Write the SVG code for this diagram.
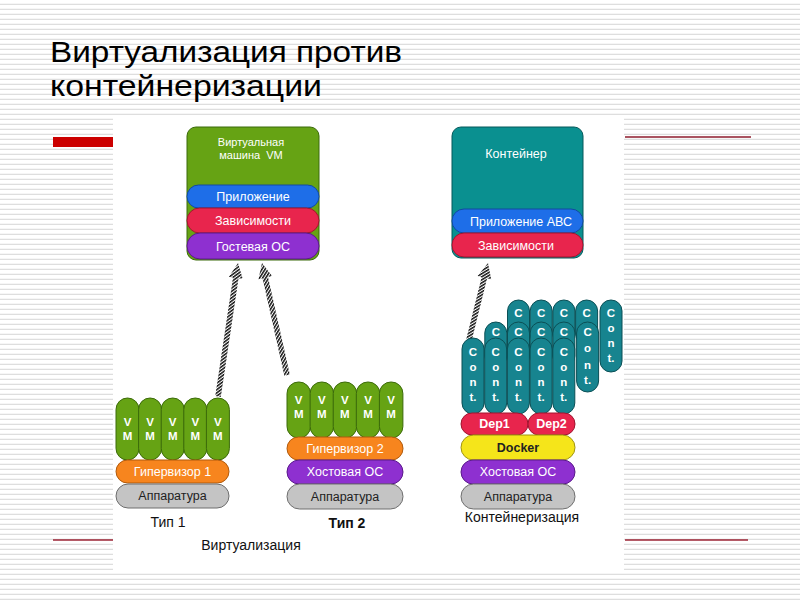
<svg xmlns="http://www.w3.org/2000/svg" width="800" height="600" viewBox="0 0 800 600">
<defs>
<pattern id="bglines" patternUnits="userSpaceOnUse" x="0" y="0" width="800" height="5">
<rect x="0" y="0" width="800" height="5" fill="#fff"/>
<rect x="0" y="3.8" width="800" height="1" fill="#d6d6d6"/>
</pattern>
<pattern id="hatch" patternUnits="userSpaceOnUse" width="2.6" height="2.6" patternTransform="rotate(45)">
<rect x="0" y="0" width="2.6" height="2.6" fill="#fff"/>
<rect x="0" y="0" width="1.5" height="2.6" fill="#111"/>
</pattern>
</defs>
<style>
.lbl{font-family:"Liberation Sans","DejaVu Sans",Arial,sans-serif;font-size:12.5px;fill:#fff;text-anchor:middle}
.sm{font-size:11px}
.dk{fill:#222}
.b{font-weight:bold}
.vm{fill:#66a314;stroke:#3b6a0a;stroke-width:1}
.ct{fill:#17848f;stroke:#0b4f55;stroke-width:1}
.blue{fill:#1e6ee8;stroke:#124aa0;stroke-width:1}
.red{fill:#e8254d;stroke:#a0152f;stroke-width:1}
.purple{fill:#8e30d0;stroke:#5a1a8a;stroke-width:1}
.orange{fill:#f7851e;stroke:#b05a0c;stroke-width:1}
.gray{fill:#c4c4c4;stroke:#6e6e6e;stroke-width:1}
.yellow{fill:#f5e51a;stroke:#a09410;stroke-width:1}
.pl{font-family:"Liberation Sans","DejaVu Sans",Arial,sans-serif;font-size:11.5px;font-weight:bold;fill:#fff;text-anchor:middle}
.cap{font-family:"Liberation Sans","DejaVu Sans",Arial,sans-serif;font-size:14px;fill:#111;text-anchor:middle}
.hatchArrow{fill:url(#hatch)}
</style>

<!-- background -->
<rect x="0" y="0" width="800" height="600" fill="url(#bglines)"/>
<rect x="113" y="116" width="511" height="456" fill="#fff"/>
<rect x="53" y="137" width="60" height="10" fill="#cc0000"/>
<line x1="625" y1="137" x2="751" y2="137" stroke="#8e1b2c" stroke-width="1.6"/>
<line x1="53" y1="540" x2="113" y2="540" stroke="#9b2335" stroke-width="1.5"/>
<line x1="625" y1="540" x2="748" y2="540" stroke="#9b2335" stroke-width="1.5"/>

<!-- title -->
<g id="title" font-family="'Liberation Sans','DejaVu Sans',Arial,sans-serif" font-size="30" fill="#000">
<text x="50" y="62" textLength="352" lengthAdjust="spacingAndGlyphs">Виртуализация против</text>
<text x="50" y="96" textLength="272" lengthAdjust="spacingAndGlyphs">контейнеризации</text>
</g>

<!-- connectors -->
<g id="connectors">
<path class="hatchArrow" transform="translate(238,263) rotate(8.5)" d="M0,0 L7,15 L2.8,15 L2.8,135 L-2.8,135 L-2.8,15 L-7,15 Z"/>
<path class="hatchArrow" transform="translate(262,263) rotate(-12.6)" d="M0,0 L7,15 L2.8,15 L2.8,115 L-2.8,115 L-2.8,15 L-7,15 Z"/>
<path class="hatchArrow" transform="translate(488,263) rotate(13.9)" d="M0,0 L7,15 L2.8,15 L2.8,79 L-2.8,79 L-2.8,15 L-7,15 Z"/>
</g>

<!-- VM box -->
<g id="vm-box">
<rect x="187" y="127" width="132" height="133" rx="9" fill="#66a314" stroke="#3b6a0a"/>
<text class="lbl sm" x="251" y="146">Виртуальная</text>
<text class="lbl sm" x="251" y="159" xml:space="preserve">машина  VM</text>
<rect class="blue" x="187" y="185" width="132" height="23" rx="11.5"/>
<text class="lbl" x="253" y="201">Приложение</text>
<rect class="red" x="187" y="208" width="132" height="25" rx="12.5"/>
<text class="lbl" x="253" y="225">Зависимости</text>
<rect class="purple" x="187" y="233" width="132" height="26" rx="13"/>
<text class="lbl" x="253" y="251">Гостевая ОС</text>
</g>

<!-- Container box -->
<g id="container-box">
<rect x="452" y="127" width="131" height="131" rx="9" fill="#0a9090" stroke="#05595a"/>
<text class="lbl" x="516" y="158">Контейнер</text>
<rect class="blue" x="452" y="209" width="131" height="24" rx="12"/>
<text class="lbl" x="521" y="226">Приложение АВС</text>
<rect class="red" x="452" y="233" width="131" height="24" rx="12"/>
<text class="lbl" x="516" y="250">Зависимости</text>
</g>

<!-- Type 1 -->
<g id="type1">
<rect class="vm" x="116" y="398" width="23" height="62" rx="11.5"/>
<rect class="vm" x="138.6" y="398" width="23" height="62" rx="11.5"/>
<rect class="vm" x="161.2" y="398" width="23" height="62" rx="11.5"/>
<rect class="vm" x="183.8" y="398" width="23" height="62" rx="11.5"/>
<rect class="vm" x="206.4" y="398" width="23" height="62" rx="11.5"/>
<g class="pl">
<text x="127.5" y="426">V</text><text x="127.5" y="440">M</text>
<text x="150.1" y="426">V</text><text x="150.1" y="440">M</text>
<text x="172.7" y="426">V</text><text x="172.7" y="440">M</text>
<text x="195.3" y="426">V</text><text x="195.3" y="440">M</text>
<text x="217.9" y="426">V</text><text x="217.9" y="440">M</text>
</g>
<rect class="orange" x="116" y="460" width="113" height="23" rx="11.5"/>
<text class="lbl" x="172.5" y="476">Гипервизор 1</text>
<rect class="gray" x="116" y="484" width="113" height="24" rx="12"/>
<text class="lbl dk" x="172.5" y="500">Аппаратура</text>
<text class="cap" x="168" y="527">Тип 1</text>
</g>

<!-- Type 2 -->
<g id="type2">
<rect class="vm" x="287" y="382" width="23.5" height="56" rx="11.5"/>
<rect class="vm" x="310.1" y="382" width="23.5" height="56" rx="11.5"/>
<rect class="vm" x="333.2" y="382" width="23.5" height="56" rx="11.5"/>
<rect class="vm" x="356.3" y="382" width="23.5" height="56" rx="11.5"/>
<rect class="vm" x="379.4" y="382" width="23.5" height="56" rx="11.5"/>
<g class="pl">
<text x="298.7" y="404">V</text><text x="298.7" y="418">M</text>
<text x="321.8" y="404">V</text><text x="321.8" y="418">M</text>
<text x="344.9" y="404">V</text><text x="344.9" y="418">M</text>
<text x="368" y="404">V</text><text x="368" y="418">M</text>
<text x="391.1" y="404">V</text><text x="391.1" y="418">M</text>
</g>
<rect class="orange" x="287" y="437" width="116" height="23" rx="11.5"/>
<text class="lbl" x="345" y="453">Гипервизор 2</text>
<rect class="purple" x="287" y="460" width="116" height="24" rx="12"/>
<text class="lbl" x="345" y="476">Хостовая ОС</text>
<rect class="gray" x="287" y="484" width="116" height="25" rx="12.5"/>
<text class="lbl dk" x="345" y="501">Аппаратура</text>
<text class="cap b" x="347" y="528">Тип 2</text>
</g>

<!-- Containerization -->
<g id="containers">
<rect class="ct" x="507.5" y="300" width="22" height="45" rx="11"/>
<rect class="ct" x="530.2" y="300" width="22" height="45" rx="11"/>
<rect class="ct" x="552.9" y="300" width="22" height="45" rx="11"/>
<rect class="ct" x="575.6" y="300" width="22" height="45" rx="11"/>
<rect class="ct" x="600" y="300" width="22" height="72" rx="11"/>
<g class="pl">
<text x="518.5" y="317">C</text><text x="541.2" y="317">C</text><text x="563.9" y="317">C</text><text x="586.6" y="317">C</text>
<text x="611" y="317">C</text><text x="611" y="332">o</text><text x="611" y="347">n</text><text x="611" y="362">t.</text>
</g>
<rect class="ct" x="484.8" y="322" width="22" height="45" rx="11"/>
<rect class="ct" x="507.5" y="322" width="22" height="45" rx="11"/>
<rect class="ct" x="530.2" y="322" width="22" height="45" rx="11"/>
<rect class="ct" x="552.9" y="322" width="22" height="45" rx="11"/>
<rect class="ct" x="576.6" y="322" width="22" height="70" rx="11"/>
<g class="pl">
<text x="495.8" y="336">C</text><text x="518.5" y="336">C</text><text x="541.2" y="336">C</text><text x="563.9" y="336">C</text>
<text x="587.6" y="336">C</text><text x="587.6" y="352">o</text><text x="587.6" y="369">n</text><text x="587.6" y="384">t.</text>
</g>
<rect class="ct" x="462" y="338" width="22" height="76" rx="11"/>
<rect class="ct" x="484.7" y="338" width="22" height="76" rx="11"/>
<rect class="ct" x="507.4" y="338" width="22" height="76" rx="11"/>
<rect class="ct" x="530.1" y="338" width="22" height="76" rx="11"/>
<rect class="ct" x="552.8" y="338" width="22" height="76" rx="11"/>
<g class="pl">
<text x="473" y="356">C</text><text x="473" y="371">o</text><text x="473" y="386">n</text><text x="473" y="401">t.</text>
<text x="495.7" y="356">C</text><text x="495.7" y="371">o</text><text x="495.7" y="386">n</text><text x="495.7" y="401">t.</text>
<text x="518.4" y="356">C</text><text x="518.4" y="371">o</text><text x="518.4" y="386">n</text><text x="518.4" y="401">t.</text>
<text x="541.1" y="356">C</text><text x="541.1" y="371">o</text><text x="541.1" y="386">n</text><text x="541.1" y="401">t.</text>
<text x="563.8" y="356">C</text><text x="563.8" y="371">o</text><text x="563.8" y="386">n</text><text x="563.8" y="401">t.</text>
</g>
<rect class="red" x="461" y="413" width="67" height="22" rx="11"/>
<text class="lbl b" x="494.5" y="428">Dep1</text>
<rect class="red" x="528" y="413" width="47" height="22" rx="11"/>
<text class="lbl b" x="551.5" y="428">Dep2</text>
<rect class="yellow" x="461" y="435" width="114" height="25" rx="12.5"/>
<text class="lbl b dk" x="518" y="452">Docker</text>
<rect class="purple" x="461" y="460" width="114" height="24" rx="12"/>
<text class="lbl" x="518" y="476">Хостовая ОС</text>
<rect class="gray" x="461" y="484" width="114" height="25" rx="12.5"/>
<text class="lbl dk" x="518" y="501">Аппаратура</text>
<text class="cap" x="522" y="522">Контейнеризация</text>
</g>

<text class="cap" x="251" y="550">Виртуализация</text>
</svg>
